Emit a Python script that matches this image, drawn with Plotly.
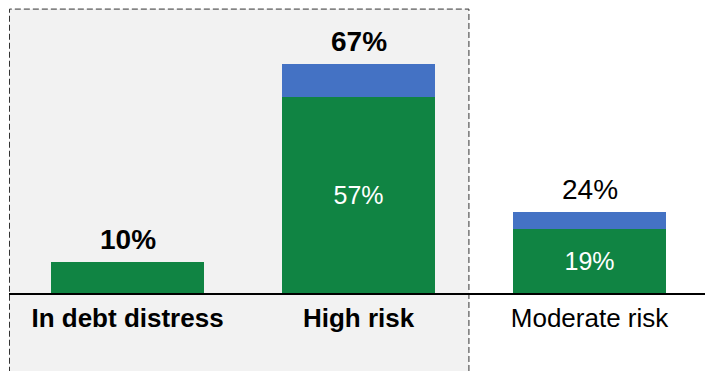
import plotly.graph_objects as go

categories = ["In debt distress", "High risk", "Moderate risk"]
tick_labels = ["<b>In debt distress</b>", "<b>High risk</b>", "Moderate risk"]
green_values = [9.1, 57.3, 18.8]
blue_values = [0.0, 9.7, 4.9]
green_labels = ["", "57%", "19%"]
total_labels = ["<b>10%</b>", "<b>67%</b>", "24%"]

GREEN = "#108443"
BLUE = "#4472C4"
FONT = "Liberation Sans, Arial, sans-serif"

fig = go.Figure()
fig.add_trace(go.Bar(
    x=categories, y=green_values, marker=dict(color=GREEN, line=dict(width=0)),
    text=green_labels, textposition="inside", insidetextanchor="middle",
    textfont=dict(color="white", size=25, family=FONT), width=0.665,
    hoverinfo="skip", showlegend=False,
))
fig.add_trace(go.Bar(
    x=categories, y=blue_values, marker=dict(color=BLUE, line=dict(width=0)),
    width=0.665, hoverinfo="skip", showlegend=False,
))

totals = [g + b for g, b in zip(green_values, blue_values)]
for c, t, lab in zip(categories, totals, total_labels):
    fig.add_annotation(x=c, y=t, text=lab, showarrow=False, yanchor="middle",
                       yshift=22, font=dict(size=28, color="black", family=FONT))

fig.add_shape(type="rect", xref="x", yref="paper", x0=-0.511, x1=1.478,
              y0=-0.35, y1=1.04, fillcolor="#F2F2F2",
              line=dict(color="#333333", width=1, dash="6px,3px"), layer="below")

fig.update_layout(
    barmode="stack", width=705, height=371,
    margin=dict(l=9, r=0, t=20, b=78),
    paper_bgcolor="white", plot_bgcolor="rgba(0,0,0,0)",
    font=dict(family=FONT, color="black"),
    bargap=0.335,
)
fig.update_xaxes(tickvals=categories, ticktext=tick_labels, showline=True,
                 linecolor="black", linewidth=1.5, ticks="",
                 tickfont=dict(size=26, color="black", family=FONT),
                 ticklabelstandoff=1, showgrid=False, zeroline=False)
fig.update_yaxes(range=[0, 79.87], visible=False, showgrid=False, zeroline=False)

fig.write_html("out.html")
